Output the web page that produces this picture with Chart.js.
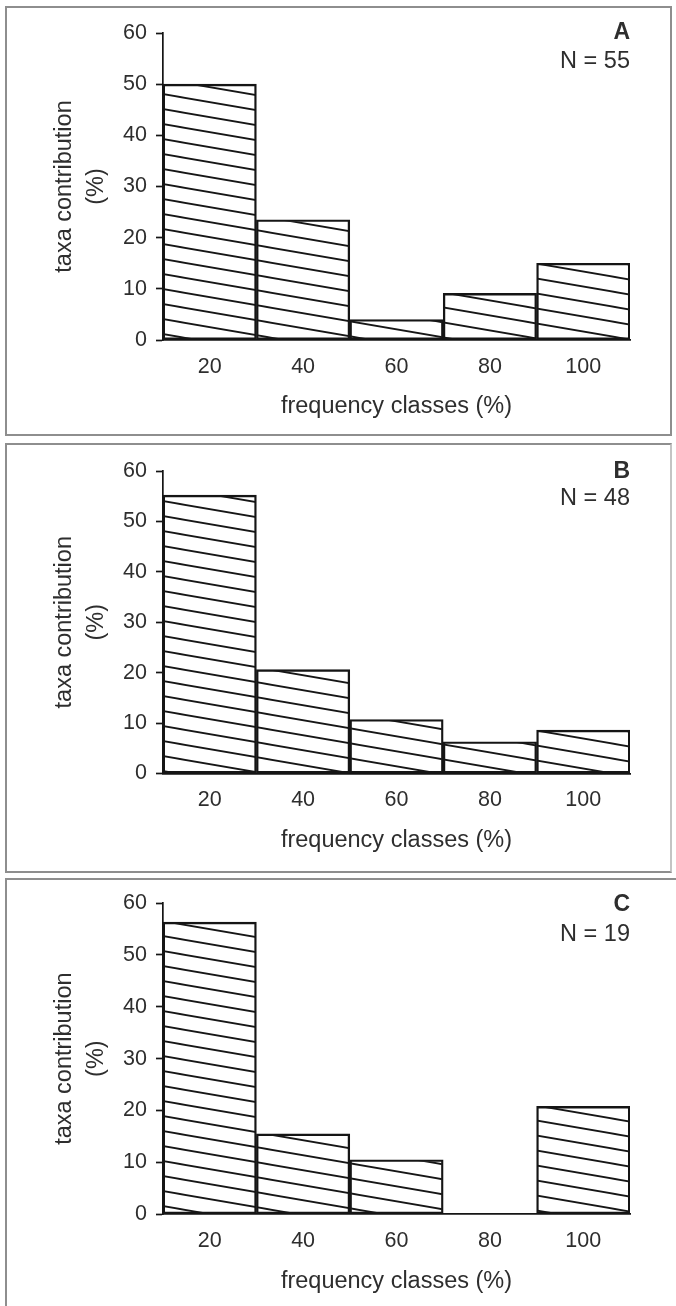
<!DOCTYPE html>
<html><head><meta charset="utf-8">
<script src="https://cdn.jsdelivr.net/npm/chart.js@4.4.1/dist/chart.umd.min.js"></script>
<style>
html,body{margin:0;padding:0;background:#fff;}
body{width:676px;height:1306px;position:relative;overflow:hidden;}
.box{position:absolute;box-sizing:border-box;border:2px solid #8e8e8e;}
canvas{position:absolute;}
</style></head><body>
<div class="box" style="left:5px;top:6px;width:667px;height:430px"></div>
<div class="box" style="left:5px;top:443px;width:667px;height:430px;border-right-color:#c4c4c4"></div>
<div class="box" style="left:5px;top:878px;width:680px;height:440px;border-bottom-color:#ddd;border-right:none"></div>
<canvas id="cA" width="665" height="427" style="left:6px;top:7px;width:665px;height:427px"></canvas>
<canvas id="cB" width="665" height="427" style="left:6px;top:444px;width:665px;height:427px"></canvas>
<canvas id="cC" width="665" height="427" style="left:6px;top:879px;width:665px;height:427px"></canvas>
<script>
const categories = ['20', '40', '60', '80', '100'];
const valuesA = [50, 23.5, 4, 9.1, 15];
const valuesB = [55.2, 20.6, 10.7, 6.3, 8.6];
const valuesC = [56.3, 15.5, 10.5, 0, 20.8];
const panelLetters = ['A', 'B', 'C'];
const panelN = ['N = 55', 'N = 48', 'N = 19'];
const yTitle = ['taxa contribution', '(%)'];
const xTitle = 'frequency classes (%)';

const FONT = '"Liberation Sans", Arial, Helvetica, sans-serif';
const INK = '#151515';
const TXT = '#2e2e2e';

function makeHatch() {
  const w = 87, h = 15;
  const c = document.createElement('canvas');
  c.width = w; c.height = h;
  const g = c.getContext('2d');
  g.strokeStyle = '#161616';
  g.lineWidth = 1.8;
  for (const o of [-h, 0, h]) {
    g.beginPath(); g.moveTo(-1, o - h / w); g.lineTo(w + 1, o + h + h / w); g.stroke();
  }
  return g.createPattern(c, 'repeat');
}

const panelLabelPlugin = {
  id: 'panelLabel',
  afterDraw(chart, args, opts) {
    const {ctx, chartArea} = chart;
    ctx.save();
    ctx.fillStyle = TXT;
    ctx.textAlign = 'right';
    ctx.textBaseline = 'middle';
    ctx.font = 'bold 23px ' + FONT;
    ctx.fillText(opts.letter, chartArea.right, chartArea.top + opts.dy1);
    ctx.font = '23.5px ' + FONT;
    ctx.fillText(opts.n, chartArea.right, chartArea.top + opts.dy2);
    ctx.restore();
  }
};

// canvas-relative layout per panel: chart top, chart bottom
const layouts = [
  {id: 'cA', top: 26, bottom: 333, dy1: 0, dy2: 29},
  {id: 'cB', top: 27, bottom: 329.5, dy1: 1, dy2: 28},
  {id: 'cC', top: 24, bottom: 335.3, dy1: 2, dy2: 32}
];
const allValues = [valuesA, valuesB, valuesC];

layouts.forEach((L, i) => {
  const H = 427;
  const xAxisH = H - L.bottom;
  const titleLH = 23.5 * 1.2;
  new Chart(document.getElementById(L.id), {
    type: 'bar',
    data: {
      labels: categories,
      datasets: [{
        data: allValues[i],
        backgroundColor: makeHatch(),
        borderColor: INK,
        borderWidth: 1.7,
        borderSkipped: false,
        categoryPercentage: 1,
        barPercentage: 1
      }]
    },
    options: {
      responsive: false,
      animation: false,
      layout: {padding: {top: L.top, right: 41, left: 0, bottom: 0}},
      plugins: {
        legend: {display: false},
        tooltip: {enabled: false},
        panelLabel: {letter: panelLetters[i], n: panelN[i], dy1: L.dy1, dy2: L.dy2}
      },
      scales: {
        x: {
          grid: {display: false, drawTicks: false},
          border: {display: true, color: INK, width: 1.7},
          ticks: {color: TXT, font: {family: FONT, size: 21.5}, padding: 14},
          title: {display: true, text: xTitle, color: TXT,
                  font: {family: FONT, size: 23.5, lineHeight: 1.2},
                  padding: {top: 0, bottom: xAxisH - 67 - titleLH / 2}},
          afterFit(scale) { scale.height = xAxisH; }
        },
        y: {
          min: 0, max: 60,
          ticks: {stepSize: 10, color: TXT, font: {family: FONT, size: 21.5}, padding: 9},
          grid: {drawOnChartArea: false, drawTicks: true, tickLength: 7, tickWidth: 1.7, color: INK},
          border: {display: true, color: INK, width: 1.7},
          title: {display: true, text: yTitle, color: TXT,
                  font: {family: FONT, size: 23.5, lineHeight: 1.35},
                  padding: {top: 59 - 23.5 * 1.35 / 2, bottom: 0}},
          afterFit(scale) { scale.width = 157; }
        }
      }
    },
    plugins: [panelLabelPlugin]
  });
});
</script>
</body></html>
